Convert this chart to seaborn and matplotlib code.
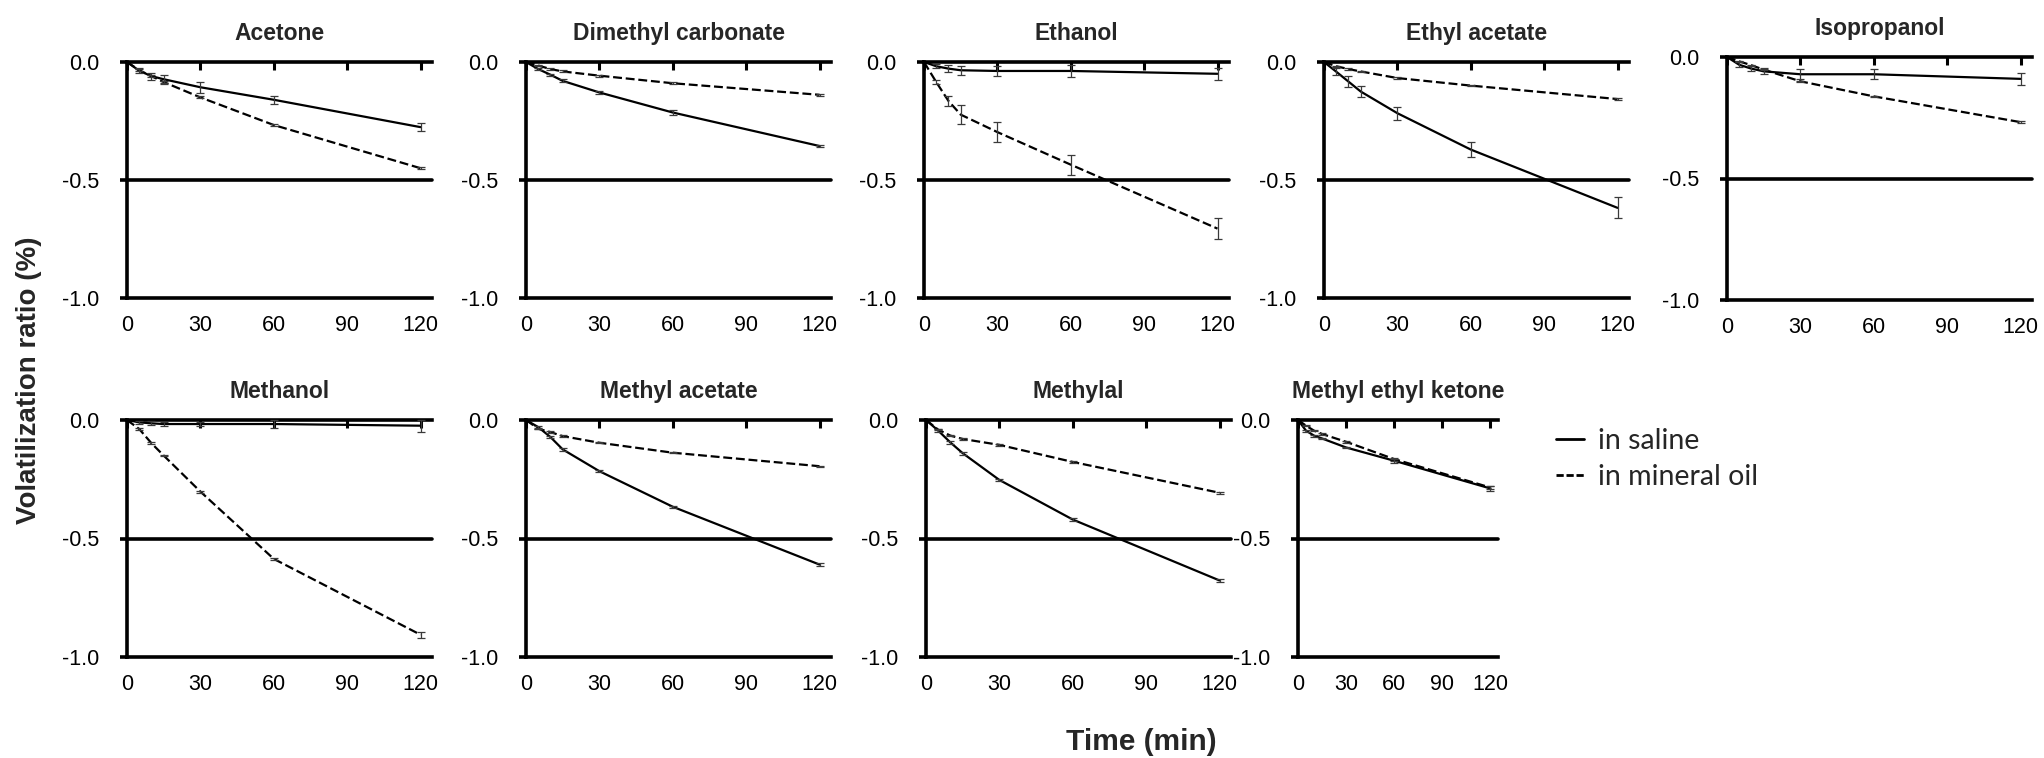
import numpy as np
import pandas as pd
import matplotlib
matplotlib.use("Agg")
import matplotlib.pyplot as plt
import seaborn as sns
from matplotlib.lines import Line2D

# ---------------- data ----------------
times = [0, 5, 10, 15, 30, 60, 120]
solvents = ["Acetone", "Dimethyl carbonate", "Ethanol", "Ethyl acetate", "Isopropanol",
            "Methanol", "Methyl acetate", "Methylal", "Methyl ethyl ketone"]
media = ["in saline", "in mineral oil"]
x_ticks = [0, 30, 60, 90, 120]
x_tick_labels = ["0", "30", "60", "90", "120"]
y_ticks = [0.0, -0.5, -1.0]
y_tick_labels = ["0.0", "-0.5", "-1.0"]

acetone_saline = [0, -0.037, -0.060, -0.073, -0.107, -0.160, -0.276]
acetone_saline_err = [0, 0.010, 0.015, 0.020, 0.024, 0.017, 0.018]
acetone_oil = [0, -0.035, -0.060, -0.085, -0.150, -0.267, -0.450]
acetone_oil_err = [0, 0.004, 0.004, 0.004, 0.004, 0.004, 0.004]

dmc_saline = [0, -0.030, -0.054, -0.080, -0.129, -0.214, -0.356]
dmc_saline_err = [0, 0.005, 0.005, 0.006, 0.005, 0.012, 0.005]
dmc_oil = [0, -0.015, -0.030, -0.040, -0.058, -0.090, -0.139]
dmc_oil_err = [0, 0.004, 0.004, 0.004, 0.005, 0.005, 0.005]

ethanol_saline = [0, -0.018, -0.028, -0.035, -0.038, -0.038, -0.050]
ethanol_saline_err = [0, 0.008, 0.015, 0.020, 0.020, 0.025, 0.025]
ethanol_oil = [0, -0.085, -0.165, -0.223, -0.297, -0.435, -0.706]
ethanol_oil_err = [0, 0.010, 0.020, 0.040, 0.042, 0.043, 0.043]

etac_saline = [0, -0.041, -0.083, -0.125, -0.217, -0.371, -0.618]
etac_saline_err = [0, 0.015, 0.022, 0.025, 0.027, 0.030, 0.045]
etac_oil = [0, -0.018, -0.030, -0.040, -0.068, -0.100, -0.157]
etac_oil_err = [0, 0.003, 0.003, 0.003, 0.003, 0.003, 0.003]

ipa_saline = [0, -0.032, -0.048, -0.059, -0.071, -0.071, -0.090]
ipa_saline_err = [0, 0.010, 0.010, 0.012, 0.020, 0.020, 0.025]
ipa_oil = [0, -0.018, -0.034, -0.052, -0.100, -0.162, -0.268]
ipa_oil_err = [0, 0.003, 0.003, 0.003, 0.003, 0.003, 0.003]

methanol_saline = [0, -0.010, -0.014, -0.017, -0.017, -0.017, -0.024]
methanol_saline_err = [0, 0.005, 0.008, 0.010, 0.010, 0.018, 0.025]
methanol_oil = [0, -0.038, -0.098, -0.150, -0.302, -0.586, -0.906]
methanol_oil_err = [0, 0.004, 0.005, 0.004, 0.004, 0.004, 0.012]

meac_saline = [0, -0.030, -0.072, -0.124, -0.216, -0.366, -0.610]
meac_saline_err = [0, 0.006, 0.005, 0.005, 0.004, 0.004, 0.008]
meac_oil = [0, -0.037, -0.051, -0.068, -0.096, -0.138, -0.195]
meac_oil_err = [0, 0.003, 0.003, 0.003, 0.003, 0.003, 0.003]

methylal_saline = [0, -0.045, -0.095, -0.140, -0.253, -0.420, -0.677]
methylal_saline_err = [0, 0.005, 0.005, 0.006, 0.006, 0.008, 0.006]
methylal_oil = [0, -0.041, -0.066, -0.080, -0.105, -0.177, -0.307]
methylal_oil_err = [0, 0.003, 0.003, 0.003, 0.004, 0.005, 0.005]

mek_saline = [0, -0.045, -0.066, -0.078, -0.116, -0.172, -0.289]
mek_saline_err = [0, 0.004, 0.004, 0.004, 0.004, 0.008, 0.010]
mek_oil = [0, -0.024, -0.045, -0.059, -0.092, -0.165, -0.285]
mek_oil_err = [0, 0.003, 0.003, 0.003, 0.003, 0.006, 0.008]

series = {
    "Acetone": (acetone_saline, acetone_saline_err, acetone_oil, acetone_oil_err),
    "Dimethyl carbonate": (dmc_saline, dmc_saline_err, dmc_oil, dmc_oil_err),
    "Ethanol": (ethanol_saline, ethanol_saline_err, ethanol_oil, ethanol_oil_err),
    "Ethyl acetate": (etac_saline, etac_saline_err, etac_oil, etac_oil_err),
    "Isopropanol": (ipa_saline, ipa_saline_err, ipa_oil, ipa_oil_err),
    "Methanol": (methanol_saline, methanol_saline_err, methanol_oil, methanol_oil_err),
    "Methyl acetate": (meac_saline, meac_saline_err, meac_oil, meac_oil_err),
    "Methylal": (methylal_saline, methylal_saline_err, methylal_oil, methylal_oil_err),
    "Methyl ethyl ketone": (mek_saline, mek_saline_err, mek_oil, mek_oil_err),
}

rows = []
for s in solvents:
    sal, sal_e, oil, oil_e = series[s]
    for t, v, e in zip(times, sal, sal_e):
        rows.append(dict(solvent=s, medium=media[0], time=t, value=v, err=e))
    for t, v, e in zip(times, oil, oil_e):
        rows.append(dict(solvent=s, medium=media[1], time=t, value=v, err=e))
df = pd.DataFrame(rows)

# ---------------- figure ----------------
sns.set_theme(style="white")
plt.rcParams["font.family"] = ["Liberation Sans", "DejaVu Sans"]
plt.rcParams["axes.unicode_minus"] = False

W, H = 2044, 758
fig = plt.figure(figsize=(W / 100, H / 100), dpi=100)

# panel boxes in pixels: left, top, right, bottom
boxes = {
    "Acetone": (127, 62, 432, 298),
    "Dimethyl carbonate": (526, 62, 831, 298),
    "Ethanol": (924, 62, 1229, 298),
    "Ethyl acetate": (1324, 62, 1629, 298),
    "Isopropanol": (1727, 57, 2032, 300),
    "Methanol": (127, 420, 432, 657),
    "Methyl acetate": (526, 420, 831, 657),
    "Methylal": (926, 420, 1231, 657),
    "Methyl ethyl ketone": (1298, 420, 1498, 657),
}

SPINE_LW = 2.6
dash_map = {media[0]: "", media[1]: (4, 1.7)}

for s in solvents:
    l, t, r, b = boxes[s]
    ax = fig.add_axes([l / W, 1 - b / H, (r - l) / W, (b - t) / H])
    sub = df[df.solvent == s]
    ax.axhline(-0.5, color="black", lw=SPINE_LW, zorder=1, clip_on=False)
    sns.lineplot(data=sub, x="time", y="value", style="medium", style_order=media,
                 dashes=dash_map, color="black", lw=1.6, ax=ax, legend=False,
                 zorder=3, clip_on=False)
    for m in media:
        sm = sub[sub.medium == m]
        sm = sm[sm.time > 0]
        ax.errorbar(sm.time, sm.value, yerr=sm.err, fmt="none", ecolor="#3a3a3a",
                    elinewidth=0.9, capsize=3, capthick=0.9, zorder=4, clip_on=False)
    ax.set_xlim(0, 124.7)
    ax.set_ylim(-1.0, 0.0)
    ax.set_xticks(x_ticks)
    ax.set_xticklabels(x_tick_labels)
    ax.set_yticks(y_ticks)
    ax.set_yticklabels(y_tick_labels)
    ax.tick_params(axis="x", top=True, bottom=False, labeltop=False, labelbottom=True,
                   direction="in", length=6, width=2.2, pad=12, labelsize=15.5, colors="black")
    ax.tick_params(axis="y", left=True, direction="out", length=5, width=SPINE_LW,
                   pad=15, labelsize=15.5, colors="black")
    for side in ["top", "bottom", "left"]:
        ax.spines[side].set_visible(True)
        ax.spines[side].set_color("black")
        ax.spines[side].set_linewidth(SPINE_LW)
    ax.spines["right"].set_visible(False)
    ax.set_xlabel("")
    ax.set_ylabel("")
    ax.set_title(s, fontsize=16.5, fontweight="bold", pad=16)
    ax.set_facecolor("white")

# legend
handles = [Line2D([], [], color="black", lw=2.0),
           Line2D([], [], color="black", lw=2.0, dashes=(2.6, 1.0))]
fig.legend(handles, media, loc="upper left", bbox_to_anchor=(1556 / W, 1 - 428 / H),
           frameon=False, borderpad=0, borderaxespad=0, handlelength=0.98,
           handletextpad=0.48, labelspacing=0.34,
           prop=dict(family=["Lato", "DejaVu Sans"], size=20.5))

fig.text(29 / W, 1 - 380 / H, "Volatilization ratio (%)", rotation=90, ha="center",
         va="center", fontsize=20, fontweight="bold")
fig.text(1141 / W, 1 - 742 / H, "Time (min)", ha="center", va="center",
         fontsize=21.5, fontweight="bold")

fig.savefig("out.png", dpi=100, facecolor="white")
